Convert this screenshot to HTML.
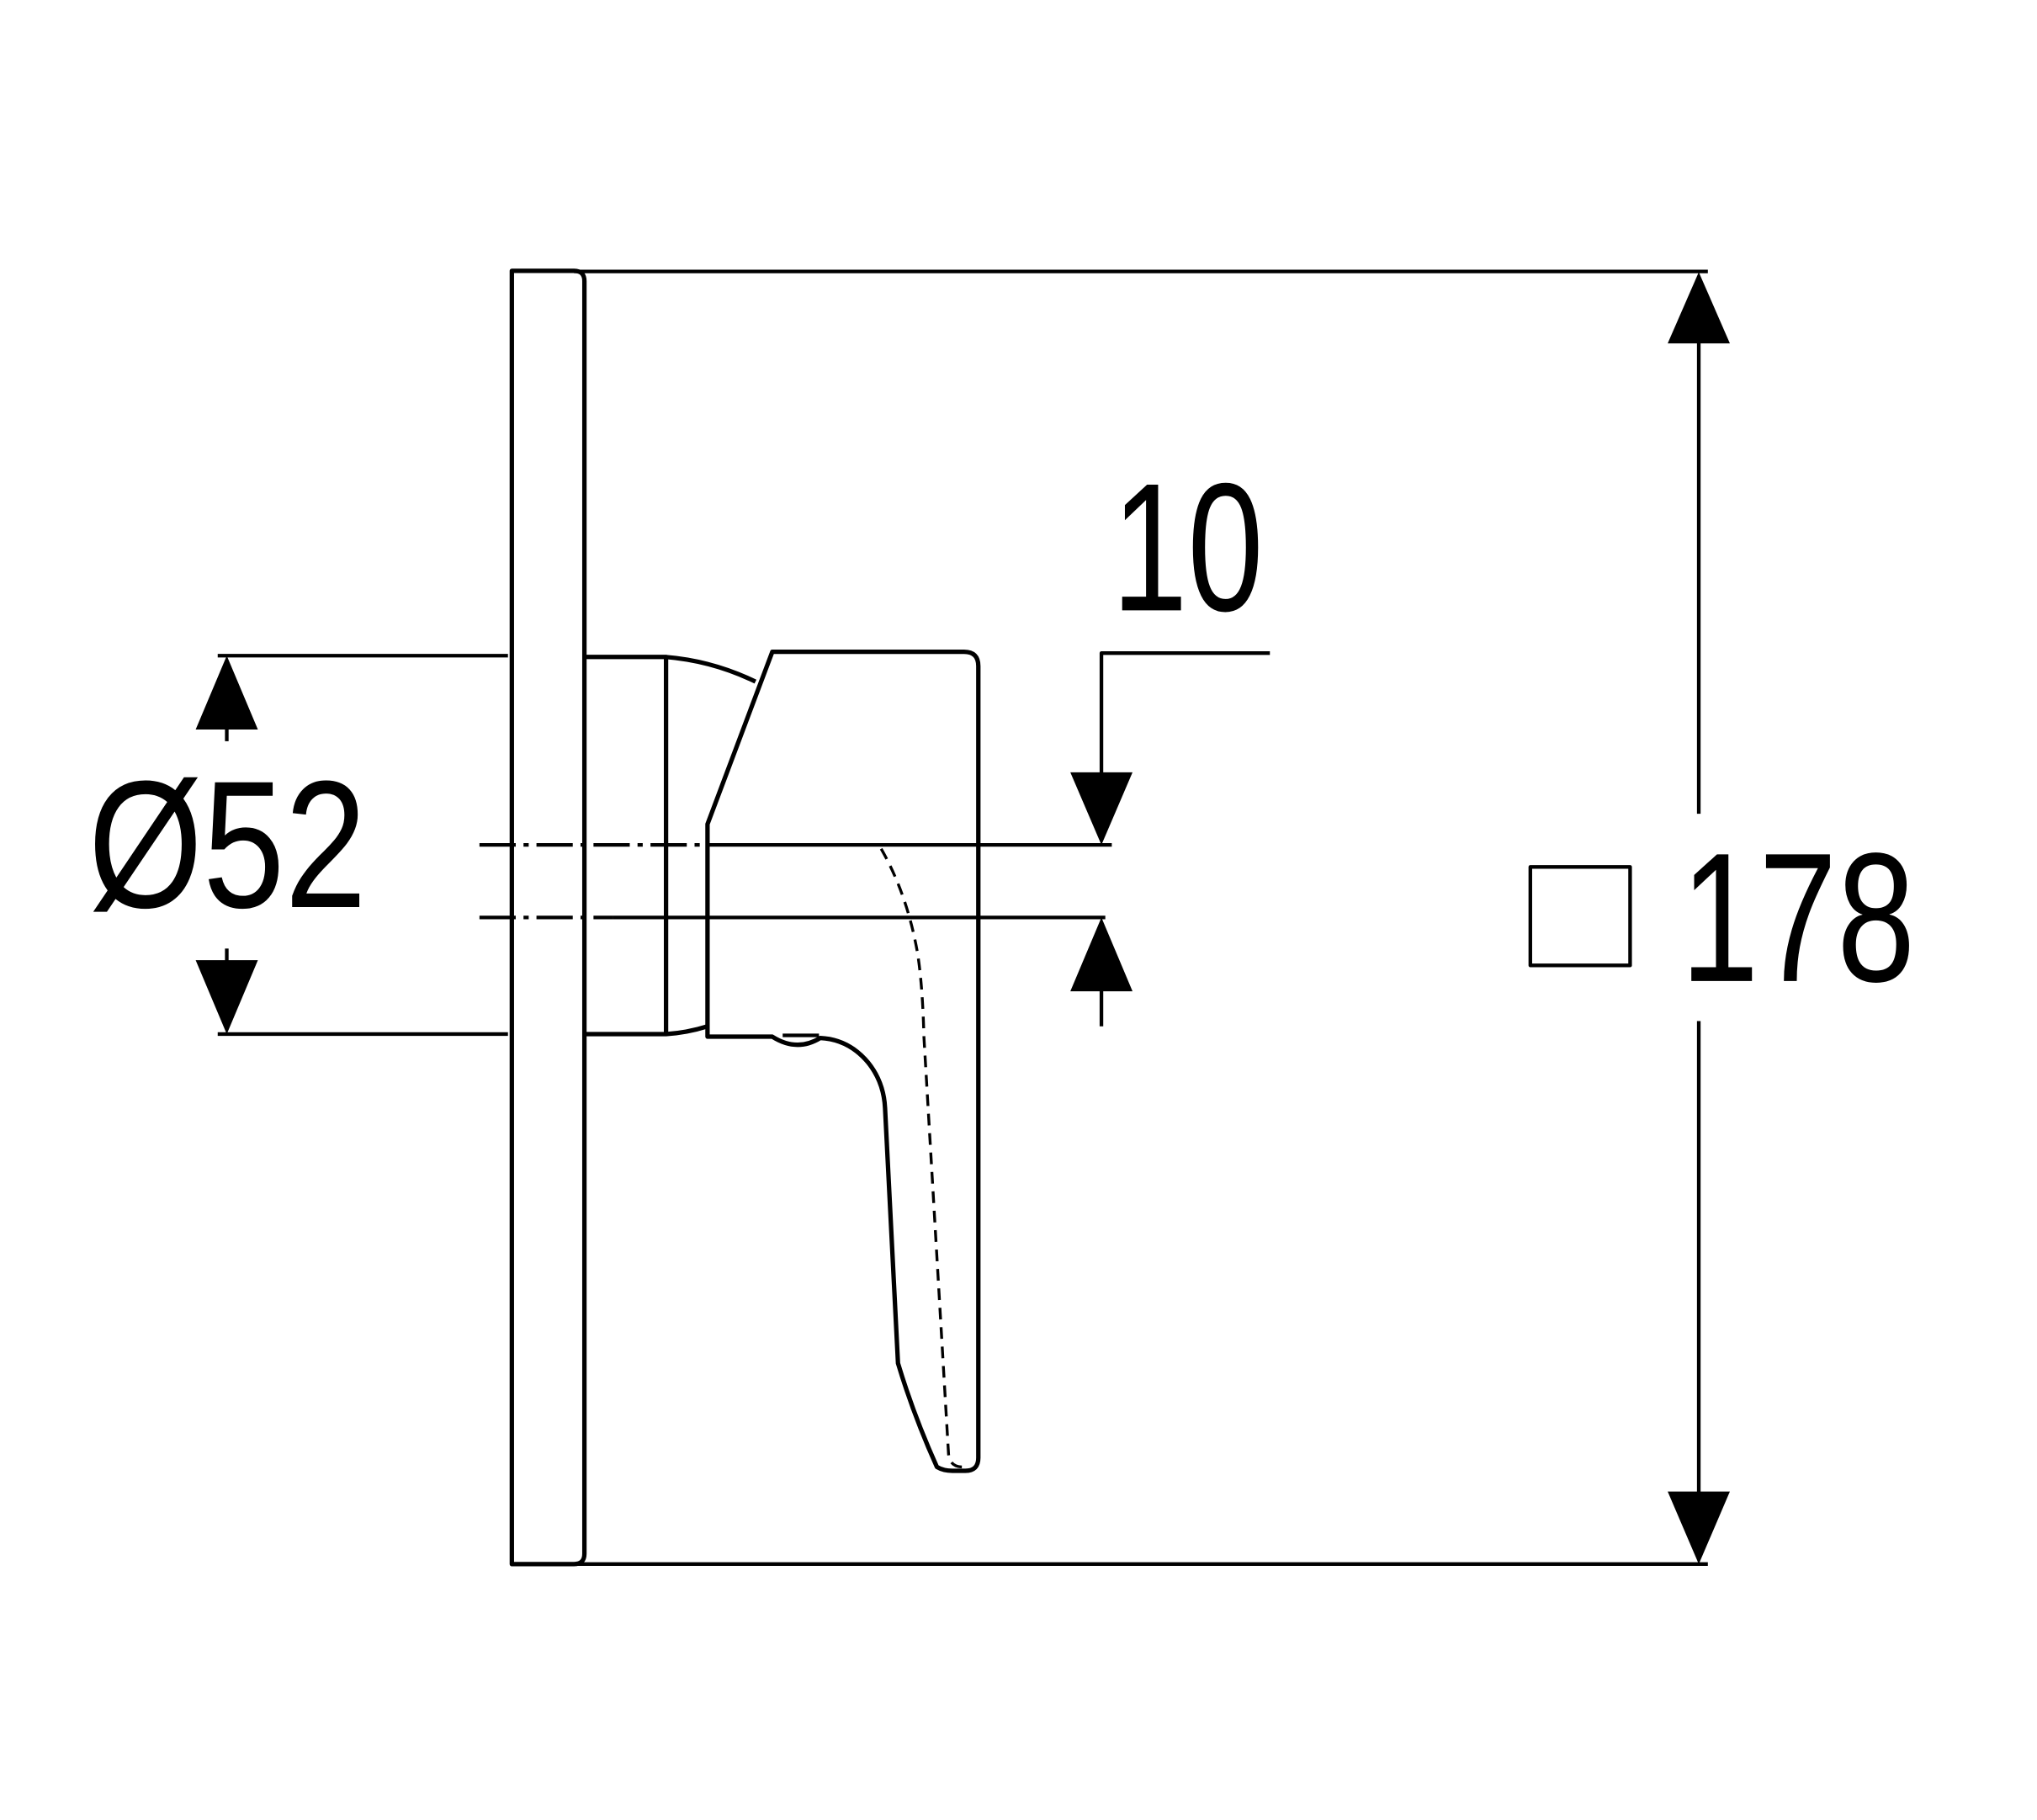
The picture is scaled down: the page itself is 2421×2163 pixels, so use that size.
<!DOCTYPE html>
<html><head><meta charset="utf-8"><style>
html,body{margin:0;padding:0;background:#fff;}
svg{display:block;}
text{font-family:"Liberation Sans",sans-serif;fill:#000;}
</style></head><body>
<svg width="2421" height="2163" viewBox="0 0 1572 1404.5" xmlns="http://www.w3.org/2000/svg">
<g fill="none" stroke="#000" stroke-width="3.4" stroke-linejoin="round">
<path d="M395 1207 V209 H443 Q451 209 451 217 V1199 Q451 1207 443 1207 Z"/>
<line x1="443" y1="209.5" x2="1318" y2="209.5" stroke-width="2.8"/>
<line x1="443" y1="1207" x2="1318" y2="1207" stroke-width="2.8"/>
<line x1="1311" y1="260" x2="1311" y2="628" stroke-width="2.8"/>
<line x1="1311" y1="788" x2="1311" y2="1155" stroke-width="2.8"/>
<rect x="1181" y="669" width="77" height="76" stroke-width="2.8"/>
<line x1="168" y1="506" x2="392" y2="506" stroke-width="2.8"/>
<line x1="168" y1="798" x2="392" y2="798" stroke-width="2.8"/>
<line x1="175" y1="560" x2="175" y2="572" stroke-width="2.8"/>
<line x1="175" y1="732" x2="175" y2="744" stroke-width="2.8"/>
<path d="M451 507 H514 V798 H451"/>
<path d="M514 507 Q550 510 583 526"/>
<path d="M514 798 Q530 797 546 792"/>
<path d="M546 636 L596 503 H744 Q755 503 755 514 V1125 Q755 1135 745 1135 H735 Q728 1135 723 1132 Q705 1092 693 1052 L683 855 Q682 835 670 820 Q655 802 633 801 Q615 812 596 800 H546 Z"/>
<line x1="604" y1="799" x2="632" y2="799" stroke-width="2.8"/>
<path d="M680 655 Q700 690 708 735 Q712 760 713 800 L732 1122 Q733 1133 745 1132" stroke-width="2.2" stroke-dasharray="9 6"/>
<line x1="370" y1="652" x2="546" y2="652" stroke-width="2.8" stroke-dasharray="28 6 4 6"/>
<line x1="546" y1="652" x2="858" y2="652" stroke-width="2.8"/>
<line x1="370" y1="708" x2="473" y2="708" stroke-width="2.8" stroke-dasharray="28 6 4 6"/>
<line x1="473" y1="708" x2="853" y2="708" stroke-width="2.8"/>
<path d="M980 504 H850 V600" stroke-width="2.8"/>
<line x1="850" y1="760" x2="850" y2="792" stroke-width="2.8"/>
</g>
<g fill="#000">
<polygon points="1311,210 1287,265 1335,265"/>
<polygon points="1311,1207 1287,1151 1335,1151"/>
<polygon points="175,506 151,563 199,563"/>
<polygon points="175,798 151,741 199,741"/>
<polygon points="850,652 826,596 874,596"/>
<polygon points="850,708 826,765 874,765"/>
</g>
<text x="1297" y="757" font-size="142" textLength="181" lengthAdjust="spacingAndGlyphs">178</text>
<text x="858" y="471" font-size="141" textLength="117" lengthAdjust="spacingAndGlyphs">10</text>
<text x="68" y="700" font-size="140" textLength="215" lengthAdjust="spacingAndGlyphs">Ø52</text>
</svg>
</body></html>
